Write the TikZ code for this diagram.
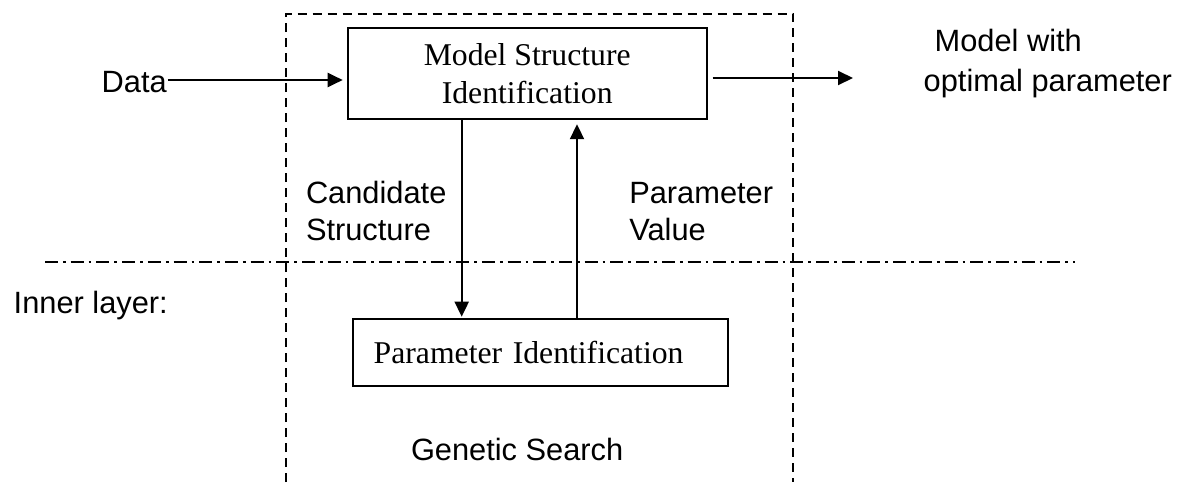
\documentclass[tikz,border=0pt]{standalone}
\usepackage{fontspec}
\setmainfont{Liberation Serif}
\newfontfamily\arialf{Liberation Sans}
\usetikzlibrary{arrows.meta}
\begin{document}
\begin{tikzpicture}[x=1pt,y=-1pt,
  line width=2pt,
  lbl/.style={font=\arialf\fontsize{30.8}{36.7}\selectfont, inner sep=0pt, align=left, anchor=base west},
  boxtxt/.style={draw, font=\fontsize{31.7}{38}\selectfont, inner sep=0pt},
  arr/.style={-{Triangle[length=15pt,width=14pt]}},
  outerbox/.style={dash pattern=on 9pt off 6pt},
  layerline/.style={dash pattern=on 13pt off 5pt on 2.7pt off 5pt}]
\useasboundingbox (0,0) rectangle (1183,482);
% outer dashed frame (open at the bottom)
\draw[outerbox] (285.7,482) -- (285.7,14) -- (793.3,14) -- (793.3,482);
% layer separator
\draw[layerline] (45,262) -- (1075,262);
% boxes
\node[boxtxt, align=center, minimum width=359pt, minimum height=90.6pt] (msi) at (527.2,73.5) {Model Structure\\Identification};
\node[boxtxt, anchor=north west, text width=333.6pt, inner xsep=21pt, inner ysep=0pt, minimum height=66.7pt, align=left] (psi) at (351.7,318.3) {Parameter Identification};
% labels (base anchor = baseline of the last line)
\node[lbl] (data) at (100.7,92.7) {Data};
\node[lbl] (out) at (922.7,91.7) {\hspace{11pt}Model with\\[3.3pt]optimal parameter};
\node[lbl] (cand) at (305,240) {Candidate\\Structure};
\node[lbl] (pval) at (628.3,240) {Parameter\\Value};
\node[lbl] (inner) at (12.7,313.3) {Inner layer:};
\node[lbl] (gs) at (410,460) {Genetic Search};
% helper coordinates
\coordinate (yin) at (0,80);
\coordinate (yout) at (0,78);
\coordinate (outend) at (853,78);
\coordinate (xd) at (461.7,0);
\coordinate (xu) at (577,0);
% connectors
\draw[arr, shorten >=4pt] (data.east |- yin) -- (msi.west |- yin);
\draw[arr] ([xshift=5pt]msi.east |- yout) -- (outend);
\draw[arr, shorten >=1.6pt] (msi.south -| xd) -- (psi.north -| xd);
\draw[arr, shorten >=4.4pt] (psi.north -| xu) -- (msi.south -| xu);
\end{tikzpicture}
\end{document}
